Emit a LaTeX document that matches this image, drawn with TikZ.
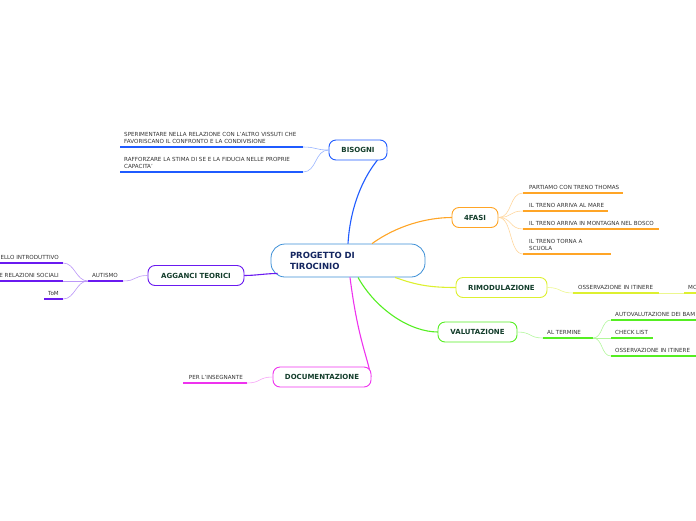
\documentclass[tikz,border=0pt]{standalone}
\usepackage{fontspec}
\setmainfont{DejaVu Sans}
\usetikzlibrary{positioning}
\definecolor{cblue}{HTML}{1F5BFF}
\definecolor{corange}{HTML}{FFA526}
\definecolor{cyellow}{HTML}{DDF030}
\definecolor{cgreen}{HTML}{55EE22}
\definecolor{cmagenta}{HTML}{EE33EE}
\definecolor{cpurple}{HTML}{6A1AF0}
\definecolor{ccentral}{HTML}{3C8FD6}
\definecolor{labelgreen}{HTML}{133D2B}
\definecolor{navy}{HTML}{142660}

\begin{document}
\begin{tikzpicture}[
  x=1pt, y=-1pt,
  topic/.style={draw, line width=0.9pt, rounded corners=7pt, fill=white, inner sep=0pt,
    minimum height=20pt, font=\fontsize{7}{8}\selectfont\bfseries, text=labelgreen},
  leaf/.style={anchor=south west, inner sep=0pt, align=left,
    font=\fontsize{5.6}{7.4}\selectfont, text=black!80},
  leafr/.style={leaf, anchor=south east},
  branch/.style={line width=1.1pt},
  twig/.style={line width=0.6pt},
  under/.style={line width=1.4pt}
]
\useasboundingbox (0,0) rectangle (696,520);

% central topic
\node[draw=ccentral, line width=0.8pt, rounded corners=14pt, fill=white, minimum width=154pt,
  minimum height=33pt, inner xsep=19pt, text width=116pt, align=left,
  font=\fontsize{8.5}{11}\selectfont\bfseries, text=navy] (central) at (348,260.5) {PROGETTO DI\\TIROCINIO};

% main branches
\draw[branch, cblue] (central.north) .. controls +(3,-50) and +(-14,12) .. (387,150) coordinate (bisend);
\draw[branch, corange] ([xshift=24pt]central.north) .. controls +(25,-18) and +(-25,0) .. (452,217.5) coordinate (fasiend);
\draw[branch, cyellow] ([xshift=47pt]central.south) .. controls +(22,8) and +(-25,0) .. (456,287.5) coordinate (rimend);
\draw[branch, cgreen] ([xshift=10pt]central.south) .. controls +(18,32) and +(-28,0) .. (438,332) coordinate (valend);
\draw[branch, cmagenta] ([xshift=2pt]central.south) .. controls +(8,62) and +(-4,-22) .. (371,377) coordinate (docend);
\draw[branch, cpurple] ([xshift=7pt,yshift=-13pt]central.west) .. controls +(-12,0) and +(12,0) .. (244,275.5) coordinate (aggend);

% topics
\node[topic, draw=cblue, minimum width=58pt] (bisogni) at (358,150) {BISOGNI};
\node[topic, draw=corange, minimum width=46pt] (fasi) at (475,217.5) {4FASI};
\node[topic, draw=cyellow, minimum width=91pt] (rimod) at (501.5,287.5) {RIMODULAZIONE};
\node[topic, draw=cgreen, minimum width=79pt] (valut) at (477.5,332) {VALUTAZIONE};
\node[topic, draw=cmagenta, minimum width=98pt] (docu) at (322,377) {DOCUMENTAZIONE};
\node[topic, draw=cpurple, minimum width=96pt] (agganci) at (196,275.5) {AGGANCI TEORICI};

% BISOGNI
\coordinate (b1) at (303,147);
\coordinate (b2) at (303,172);
\draw[twig, cblue!45] (bisogni.west) .. controls +(-14,0) and +(14,0) .. (b1);
\draw[twig, cblue!45] (bisogni.west) .. controls +(-14,0) and +(14,0) .. (b2);
\draw[under, cblue] (b1) -- (120,147);
\draw[under, cblue] (b2) -- (120,172);
\node[leaf] (b1t) at (124,144) {SPERIMENTARE NELLA RELAZIONE CON L'ALTRO VISSUTI CHE\\FAVORISCANO IL CONFRONTO E LA CONDIVISIONE};
\node[leaf] (b2t) at (124,169) {RAFFORZARE LA STIMA DI SE E LA FIDUCIA NELLE PROPRIE\\CAPACITA'};

% 4FASI
\coordinate (f1) at (523,193);
\coordinate (f2) at (523,211);
\coordinate (f3) at (523,229);
\coordinate (f4) at (523,254);
\draw[twig, corange!45] (fasi.east) .. controls +(14,0) and +(-14,0) .. (f1);
\draw[twig, corange!45] (fasi.east) .. controls +(14,0) and +(-14,0) .. (f2);
\draw[twig, corange!45] (fasi.east) .. controls +(14,0) and +(-14,0) .. (f3);
\draw[twig, corange!45] (fasi.east) .. controls +(14,0) and +(-14,0) .. (f4);
\draw[under, corange] (f1) -- (623,193);
\draw[under, corange] (f2) -- (608,211);
\draw[under, corange] (f3) -- (659,229);
\draw[under, corange] (f4) -- (611,254);
\node[leaf] (f1t) at (529,190) {PARTIAMO CON TRENO THOMAS};
\node[leaf] (f2t) at (529,208) {IL TRENO ARRIVA AL MARE};
\node[leaf] (f3t) at (529,226) {IL TRENO ARRIVA IN MONTAGNA NEL BOSCO};
\node[leaf] (f4t) at (529,251) {IL TRENO TORNA A\\SCUOLA};

% RIMODULAZIONE
\coordinate (r1) at (573,293);
\coordinate (r1e) at (659,293);
\coordinate (r2) at (684,293);
\draw[twig, cyellow!55] (rimod.east) .. controls +(14,0) and +(-14,0) .. (r1);
\draw[under, cyellow] (r1) -- (r1e);
\draw[twig, cyellow!55] (r1e) -- (r2);
\draw[under, cyellow] (r2) -- (700,293);
\node[leaf] (r1t) at (578,290) {OSSERVAZIONE IN ITINERE};
\node[leaf] (r2t) at (688,290) {MO};

% VALUTAZIONE
\coordinate (v0) at (543,338);
\coordinate (v0e) at (593,338);
\coordinate (v1) at (611,320);
\coordinate (v2) at (611,338);
\coordinate (v3) at (611,356);
\draw[twig, cgreen!45] (valut.east) .. controls +(14,0) and +(-14,0) .. (v0);
\draw[under, cgreen] (v0) -- (v0e);
\draw[twig, cgreen!45] (v0e) .. controls +(10,0) and +(-10,0) .. (v1);
\draw[twig, cgreen!45] (v0e) -- (v2);
\draw[twig, cgreen!45] (v0e) .. controls +(10,0) and +(-10,0) .. (v3);
\draw[under, cgreen] (v1) -- (700,320);
\draw[under, cgreen] (v2) -- (653,338);
\draw[under, cgreen] (v3) -- (700,356);
\node[leaf] (v0t) at (547,335) {AL TERMINE};
\node[leaf] (v1t) at (615,317) {AUTOVALUTAZIONE DEI BAM};
\node[leaf] (v2t) at (615,335) {CHECK LIST};
\node[leaf] (v3t) at (615,353) {OSSERVAZIONE IN ITINERE};

% DOCUMENTAZIONE
\coordinate (d1) at (247,383);
\draw[twig, cmagenta!45] (docu.west) .. controls +(-14,0) and +(14,0) .. (d1);
\draw[under, cmagenta] (d1) -- (183,383);
\node[leafr] (d1t) at (243,380) {PER L'INSEGNANTE};

% AGGANCI TEORICI
\coordinate (a0) at (123,281);
\coordinate (a0e) at (88,281);
\coordinate (a1) at (63,263);
\coordinate (a2) at (63,281);
\coordinate (a3) at (63,299);
\draw[twig, cpurple!45] (agganci.west) .. controls +(-14,0) and +(14,0) .. (a0);
\draw[under, cpurple] (a0) -- (a0e);
\draw[twig, cpurple!45] (a0e) .. controls +(-12,0) and +(12,0) .. (a1);
\draw[twig, cpurple!45] (a0e) -- (a2);
\draw[twig, cpurple!45] (a0e) .. controls +(-12,0) and +(12,0) .. (a3);
\draw[under, cpurple] (a1) -- (-5,263);
\draw[under, cpurple] (a2) -- (-5,281);
\draw[under, cpurple] (a3) -- (44,299);
\node[leafr] (a0t) at (118,278) {AUTISMO};
\node[leafr] (a1t) at (59,260) {ELLO INTRODUTTIVO};
\node[leafr] (a2t) at (59,278) {E RELAZIONI SOCIALI};
\node[leafr] (a3t) at (59,296) {ToM};
\end{tikzpicture}
\end{document}
